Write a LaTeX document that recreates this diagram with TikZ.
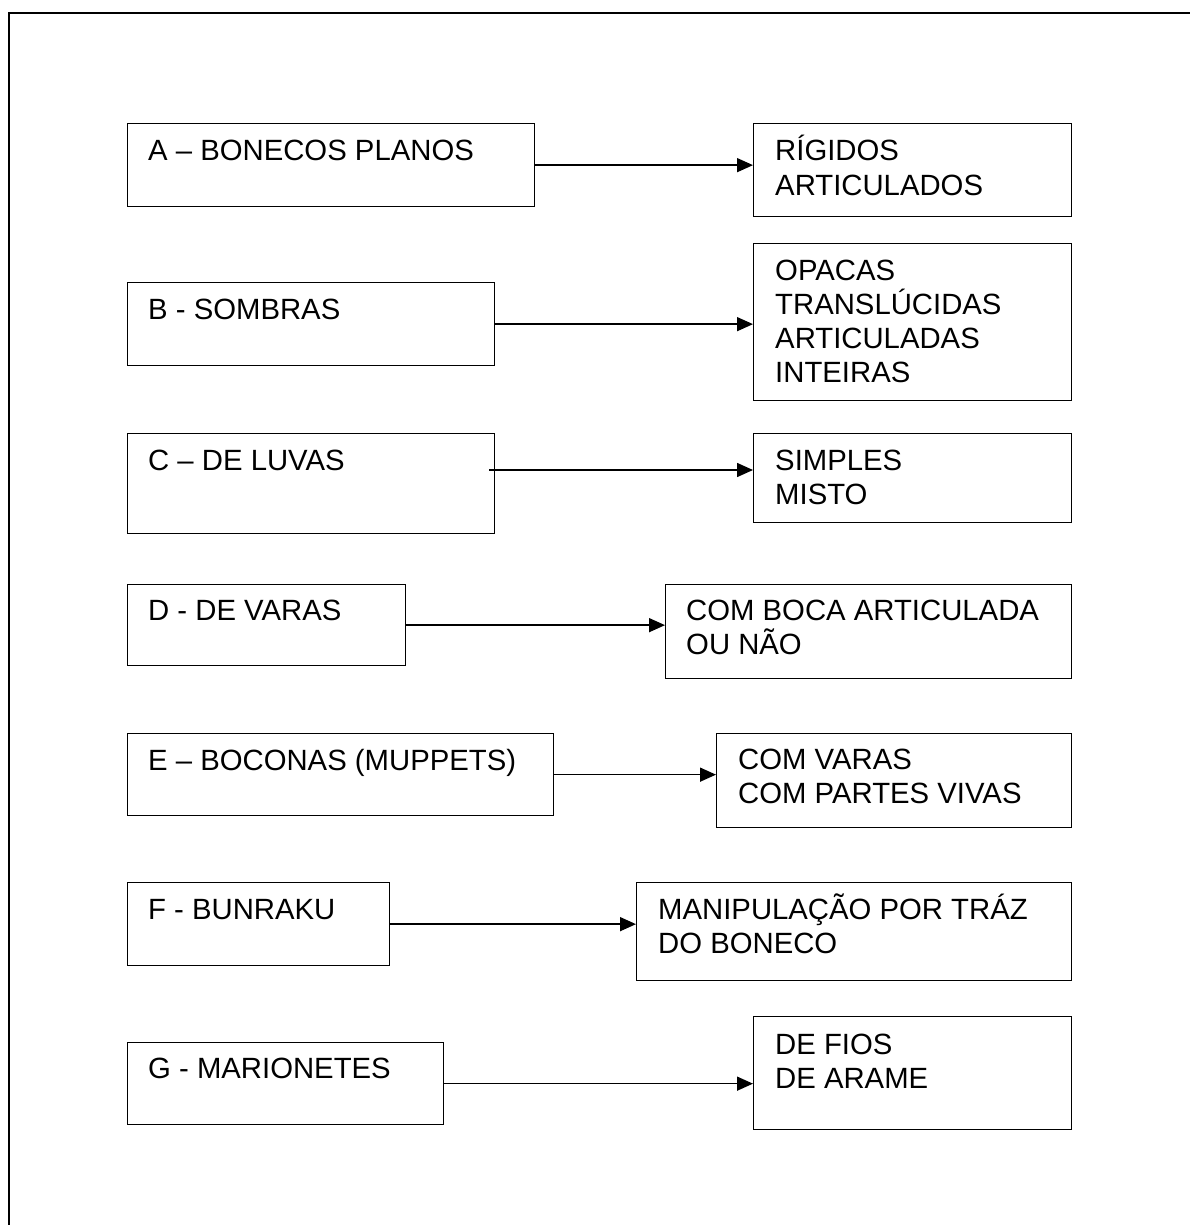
\documentclass[tikz,border=0pt]{standalone}
\usepackage{fontspec}
\setmainfont{Liberation Sans}
\usetikzlibrary{arrows.meta,calc}
\newcommand{\mylines}[1]{\parbox[t]{440pt}{\raggedright #1}}
\begin{document}
\begin{tikzpicture}[x=1pt,y=-1pt,
  box/.style={draw,line width=1.3pt,inner sep=0pt,anchor=north west},
  lbl/.style={anchor=base west,inner sep=0pt,font=\fontsize{29.3}{34}\selectfont},
  conn/.style={line width=1.5pt,-{Triangle[length=16pt,width=14pt]}},
  outerframe/.style={line width=2.3pt}]
\useasboundingbox (0,0) rectangle (1189,1225);
\fill[white] (0,0) rectangle (1189,1225);
\draw[outerframe] (9,1240) -- (9,13) -- (1200,13);

% left boxes
\node[box,minimum width=407pt,minimum height=83pt] (bA) at (127,123) {};
\node[box,minimum width=367pt,minimum height=83pt] (bB) at (127,282) {};
\node[box,minimum width=367pt,minimum height=100pt] (bC) at (127,433) {};
\node[box,minimum width=278pt,minimum height=81pt] (bD) at (127,584) {};
\node[box,minimum width=426pt,minimum height=82pt] (bE) at (127,733) {};
\node[box,minimum width=262pt,minimum height=83pt] (bF) at (127,882) {};
\node[box,minimum width=316pt,minimum height=82pt] (bG) at (127,1042) {};

% right boxes
\node[box,minimum width=318pt,minimum height=93pt] (rA) at (753,123) {};
\node[box,minimum width=318pt,minimum height=157pt] (rB) at (753,243) {};
\node[box,minimum width=318pt,minimum height=89pt] (rC) at (753,433) {};
\node[box,minimum width=406pt,minimum height=94pt] (rD) at (665,584) {};
\node[box,minimum width=355pt,minimum height=94pt] (rE) at (716,733) {};
\node[box,minimum width=435pt,minimum height=98pt] (rF) at (636,882) {};
\node[box,minimum width=318pt,minimum height=113pt] (rG) at (753,1016) {};

% left texts
\node[lbl] (tA) at ($(bA.north west)+(21,38)$) {A – BONECOS PLANOS};
\node[lbl] (tB) at ($(bB.north west)+(21,37)$) {B - SOMBRAS};
\node[lbl] (tC) at ($(bC.north west)+(21,37)$) {C – DE LUVAS};
\node[lbl] (tD) at ($(bD.north west)+(21,36)$) {D - DE VARAS};
\node[lbl] (tE) at ($(bE.north west)+(21,37)$) {E – BOCONAS (MUPPETS)};
\node[lbl] (tF) at ($(bF.north west)+(21,37)$) {F - BUNRAKU};
\node[lbl] (tG) at ($(bG.north west)+(21,36)$) {G - MARIONETES};

% right texts
\node[lbl] (sA) at ($(rA.north west)+(22,38)$) {\mylines{RÍGIDOS\\ARTICULADOS}};
\node[lbl] (sB) at ($(rB.north west)+(22,37)$) {\mylines{OPACAS\\TRANSLÚCIDAS\\ARTICULADAS\\INTEIRAS}};
\node[lbl] (sC) at ($(rC.north west)+(22,37)$) {\mylines{SIMPLES\\MISTO}};
\node[lbl] (sD) at ($(rD.north west)+(21,36)$) {\mylines{COM BOCA ARTICULADA\\OU NÃO}};
\node[lbl] (sE) at ($(rE.north west)+(22,36)$) {\mylines{COM VARAS\\COM PARTES VIVAS}};
\node[lbl] (sF) at ($(rF.north west)+(22,37)$) {\mylines{MANIPULAÇÃO POR TRÁZ\\DO BONECO}};
\node[lbl] (sG) at ($(rG.north west)+(22,38)$) {\mylines{DE FIOS\\DE ARAME}};

% connectors
\draw[conn] (bA.east) -- (rA.west |- bA.east);
\draw[conn] (bB.east) -- (rB.west |- bB.east);
\coordinate (cC) at ($(bC.north east)+(-6,37)$);
\draw[conn] (cC) -- (rC.west |- cC);
\draw[conn] (bD.east) -- (rD.west |- bD.east);
\draw[conn] (bE.east) -- (rE.west |- bE.east);
\draw[conn] (bF.east) -- (rF.west |- bF.east);
\draw[conn] (bG.east) -- (rG.west |- bG.east);
\end{tikzpicture}
\end{document}
